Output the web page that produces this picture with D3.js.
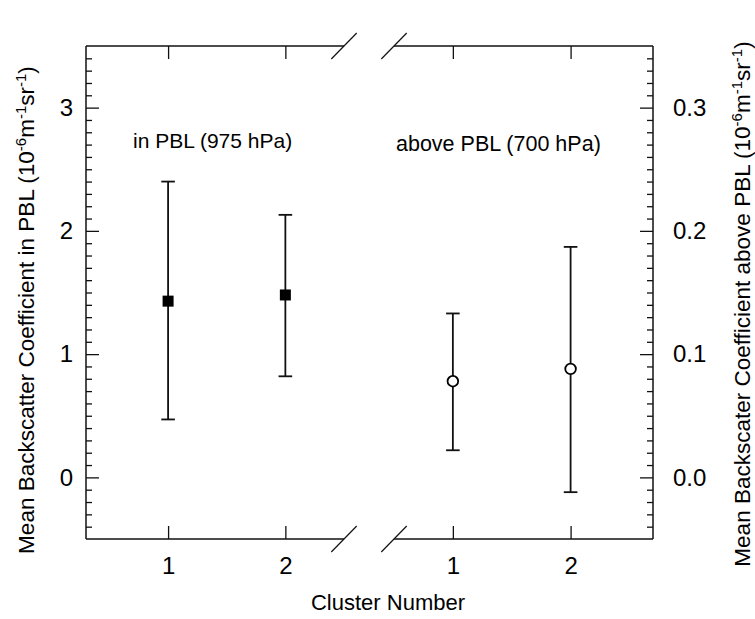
<!DOCTYPE html>
<html>
<head>
<meta charset="utf-8">
<script src="https://cdn.jsdelivr.net/npm/d3@7"></script>
<style>
  body { margin: 0; background: #fff; }
  text { font-family: "Liberation Sans", Arial, sans-serif; fill: #000; }
</style>
</head>
<body>
<svg id="chart" width="755" height="619"></svg>
<script>
// Cluster numbers shown on both halves of the x axis
const clusters = [1, 2];

// Mean backscatter in the PBL (975 hPa), left axis, 10^-6 m^-1 sr^-1
const pblMean = [1.43, 1.48];
const pblLow  = [0.47, 0.82];
const pblHigh = [2.40, 2.13];

// Mean backscatter above the PBL (700 hPa), right axis
const abvMean = [0.078, 0.088];
const abvLow  = [0.022, -0.012];
const abvHigh = [0.133, 0.187];

// Axis tick values
const leftTicks  = [0, 1, 2, 3];
const rightTicks = [0.0, 0.1, 0.2, 0.3];

// Panel labels
const pblLabel = "in PBL (975 hPa)";
const abvLabel = "above PBL (700 hPa)";
const xTitle = "Cluster Number";

const svg = d3.select("#chart");

const frame = { left: 86, right: 653, top: 46, bottom: 539, gapL: 344, gapR: 394 };

const xL = d3.scaleLinear().domain([0.3, 2.5]).range([frame.left, frame.gapL]);
const xR = d3.scaleLinear().domain([0.5, 2.7]).range([frame.gapR, frame.right]);
const yL = d3.scaleLinear().domain([-0.5, 3.5]).range([frame.bottom, frame.top]);
const yR = d3.scaleLinear().domain([-0.05, 0.35]).range([frame.bottom, frame.top]);

const ink = "#111";
const tickFont = 24;

// ---- frame lines (broken between the two halves) ----
const fg = svg.append("g").attr("stroke", ink).attr("stroke-width", 1.5).attr("fill", "none");
fg.append("line").attr("x1", frame.left).attr("x2", frame.left).attr("y1", frame.top).attr("y2", frame.bottom);
fg.append("line").attr("x1", frame.right).attr("x2", frame.right).attr("y1", frame.top).attr("y2", frame.bottom);
[frame.top, frame.bottom].forEach(y => {
  fg.append("line").attr("x1", frame.left).attr("x2", frame.gapL).attr("y1", y).attr("y2", y);
  fg.append("line").attr("x1", frame.gapR).attr("x2", frame.right).attr("y1", y).attr("y2", y);
  [frame.gapL, frame.gapR].forEach(x => {
    fg.append("line")
      .attr("x1", x - 12.7).attr("y1", y + 13)
      .attr("x2", x + 12.7).attr("y2", y - 13)
      .attr("stroke-width", 1.2);
  });
});

function styleAxis(g) {
  g.select(".domain").remove();
  g.selectAll(".tick line").attr("stroke", ink).attr("stroke-width", 1.3);
  g.selectAll(".tick text").style("font-size", tickFont + "px").attr("fill", "#000");
}

// ---- left y axis (inward ticks) ----
const minorL = d3.range(-4, 35).map(d => d / 10).filter(d => Math.abs(d - Math.round(d)) > 1e-6);
svg.append("g").attr("transform", `translate(${frame.left},0)`)
  .call(d3.axisLeft(yL).tickValues(minorL).tickSize(-6).tickFormat(""))
  .call(styleAxis);
svg.append("g").attr("transform", `translate(${frame.left},0)`)
  .call(d3.axisLeft(yL).tickValues(leftTicks).tickSize(-13).tickPadding(13).tickFormat(d3.format("d")))
  .call(styleAxis);

// ---- right y axis (inward ticks) ----
const minorR = d3.range(-4, 35).map(d => d / 100).filter(d => Math.abs(d * 10 - Math.round(d * 10)) > 1e-6);
svg.append("g").attr("transform", `translate(${frame.right},0)`)
  .call(d3.axisRight(yR).tickValues(minorR).tickSize(-6).tickFormat(""))
  .call(styleAxis);
svg.append("g").attr("transform", `translate(${frame.right},0)`)
  .call(d3.axisRight(yR).tickValues(rightTicks).tickSize(-13).tickPadding(20).tickFormat(d3.format(".1f")))
  .call(styleAxis);

// ---- x axes, bottom with labels and top with ticks only ----
[xL, xR].forEach(x => {
  svg.append("g").attr("transform", `translate(0,${frame.bottom})`)
    .call(d3.axisBottom(x).tickValues(clusters).tickSize(-13).tickPadding(18).tickFormat(d3.format("d")))
    .call(styleAxis);
  svg.append("g").attr("transform", `translate(0,${frame.top})`)
    .call(d3.axisTop(x).tickValues(clusters).tickSize(-13).tickFormat(""))
    .call(styleAxis);
});

// ---- error bars ----
function errorBars(x, y, mean, low, high, filled) {
  const g = svg.append("g");
  const rows = clusters.map((c, i) => ({ c, m: mean[i], lo: low[i], hi: high[i] }));
  const capW = 6.8;
  rows.forEach(r => {
    const cx = x(r.c);
    g.append("line").attr("x1", cx).attr("x2", cx).attr("y1", y(r.lo)).attr("y2", y(r.hi))
      .attr("stroke", ink).attr("stroke-width", 1.8);
    [r.lo, r.hi].forEach(v => {
      g.append("line").attr("x1", cx - capW).attr("x2", cx + capW).attr("y1", y(v)).attr("y2", y(v))
        .attr("stroke", ink).attr("stroke-width", 1.8);
    });
    if (filled) {
      g.append("rect").attr("x", cx - 5.5).attr("y", y(r.m) - 5.5).attr("width", 11).attr("height", 11)
        .attr("fill", "#000");
    } else {
      g.append("circle").attr("cx", cx).attr("cy", y(r.m)).attr("r", 5.3)
        .attr("fill", "#fff").attr("stroke", "#000").attr("stroke-width", 1.8);
    }
  });
}
errorBars(xL, yL, pblMean, pblLow, pblHigh, true);
errorBars(xR, yR, abvMean, abvLow, abvHigh, false);

// ---- panel labels ----
svg.append("text").attr("x", 133).attr("y", 148).style("font-size", "21px").text(pblLabel);
svg.append("text").attr("x", 396).attr("y", 151).style("font-size", "21.5px").text(abvLabel);

// ---- axis titles ----
svg.append("text").attr("x", 388).attr("y", 610)
  .attr("text-anchor", "middle").style("font-size", "22px").text(xTitle);

function unitTitle(cx, cy, lead) {
  const t = svg.append("text")
    .attr("transform", `translate(${cx},${cy}) rotate(-90)`)
    .attr("text-anchor", "middle")
    .style("font-size", "22.5px");
  const parts = [
    [lead + " (10", 0], ["-6", 1], ["m", 0], ["-1", 1], ["sr", 0], ["-1", 1], [")", 0]
  ];
  let prev = 0;
  parts.forEach(([s, sup]) => {
    const shift = sup ? -8.5 : 0;
    t.append("tspan").attr("dy", shift - prev).style("font-size", sup ? "15px" : "22.5px").text(s);
    prev = shift;
  });
}
unitTitle(34, 310, "Mean Backscatter Coefficient in PBL");
unitTitle(750, 304, "Mean Backscater Coefficient above PBL");
</script>
</body>
</html>
